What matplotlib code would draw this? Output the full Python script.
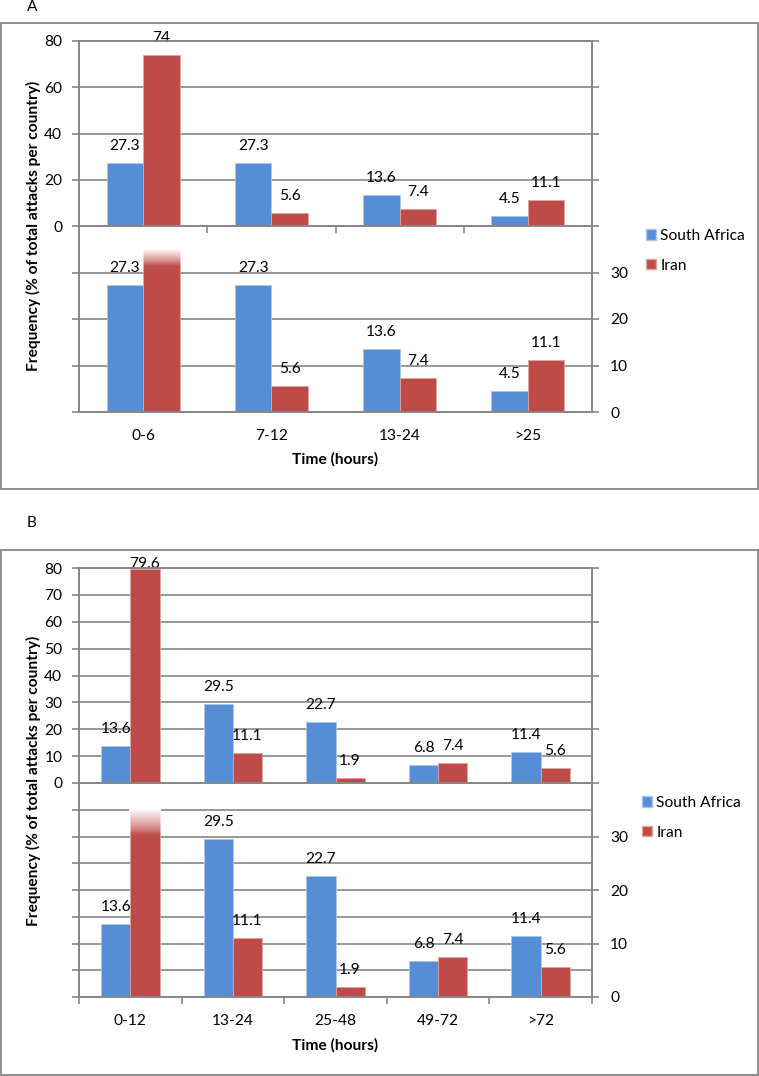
import numpy as np
import matplotlib
matplotlib.use("Agg")
import matplotlib.pyplot as plt
from matplotlib.patches import Rectangle, Patch
from matplotlib.ticker import FixedLocator, NullFormatter, FixedFormatter

plt.rcParams['font.family'] = ['Lato', 'DejaVu Sans']

# ---------------- data ----------------
series_names = ['South Africa', 'Iran']

cats_a = ['0-6', '7-12', '13-24', '>25']
sa_a = [27.3, 27.3, 13.6, 4.5]
iran_a = [74, 5.6, 7.4, 11.1]

cats_b = ['0-12', '13-24', '25-48', '49-72', '>72']
sa_b = [13.6, 29.5, 22.7, 6.8, 11.4]
iran_b = [79.6, 11.1, 1.9, 7.4, 5.6]

upper_ticks_a = [0, 20, 40, 60, 80]
upper_ticks_b = [0, 10, 20, 30, 40, 50, 60, 70, 80]
lower_ticks = [0, 10, 20, 30]

ylabel = 'Frequency (% of total attacks per country)'
xlabel = 'Time (hours)'

# ---------------- style ----------------
W, H, DPI = 759, 1076, 100
BLUE = '#558ED5'
RED = '#BE4B48'
BLUE_EDGE = '#A9C7EE'
RED_EDGE = '#E3A3A1'
GRID = '#868686'
FS = 11.2
BAR_W = 0.285
PX2PT = 72.0 / DPI

fig = plt.figure(figsize=(W / DPI, H / DPI), dpi=DPI)


def rect(x0, y0, x1, y1):
    return [x0 / W, 1 - y1 / H, (x1 - x0) / W, (y1 - y0) / H]


def style_axes(ax):
    for s in ax.spines.values():
        s.set_color(GRID)
        s.set_linewidth(1.2)
    ax.tick_params(colors=GRID, labelcolor='black', width=1.2, labelsize=FS)
    ax.set_axisbelow(True)
    ax.set_facecolor('none')


def panel(box, top, mid, bot, cats, sa, ir, up_left, up_right, low_left,
          low_grid, upper_xticks, lower_xticks, fade, ylab_y, xlab_y,
          letter, letter_y, leg_x, leg_y):
    x0, x1 = 79, 592
    n = len(cats)
    xs = np.arange(n)
    up_max = up_left[-1]
    low_max = 40
    cut = 35

    # outer box
    fig.add_artist(Rectangle((box[0] / W, 1 - box[3] / H), (box[2] - box[0]) / W,
                             (box[3] - box[1]) / H, transform=fig.transFigure,
                             fill=False, ec=GRID, lw=1.3))
    fig.text(27 / W, 1 - letter_y / H, letter, fontsize=FS, va='center', ha='left')

    # ---------- upper axes ----------
    au = fig.add_axes(rect(x0, top, x1, mid))
    style_axes(au)
    b1 = au.bar(xs - BAR_W / 2, sa, BAR_W, color=BLUE, ec=BLUE_EDGE, lw=0.6, zorder=2)
    b2 = au.bar(xs + BAR_W / 2, ir, BAR_W, color=RED, ec=RED_EDGE, lw=0.6, zorder=2)
    au.set_xlim(-0.5, n - 0.5)
    au.set_ylim(0, up_max)
    au.yaxis.set_major_locator(FixedLocator(up_left))
    au.yaxis.grid(True, color=GRID, lw=1.2)
    au.tick_params(axis='y', direction='out', length=5, pad=7)
    au.spines['top'].set_visible(True)
    au.spines['bottom'].set_zorder(3)
    if upper_xticks:
        au.xaxis.set_major_locator(FixedLocator(np.arange(1, n) - 0.5))
        au.xaxis.set_major_formatter(NullFormatter())
        au.tick_params(axis='x', direction='out', length=5)
    else:
        au.set_xticks([])
    ar = au.twinx()
    style_axes(ar)
    ar.set_ylim(0, up_max)
    ar.yaxis.set_major_locator(FixedLocator(up_right))
    ar.yaxis.set_major_formatter(NullFormatter())
    ar.tick_params(axis='y', direction='out', length=5)
    h_px = mid - top
    for bars, vals in ((b1, sa), (b2, ir)):
        for p, v in zip(bars, vals):
            dist = (up_max - v) / up_max * h_px
            off = min(17, dist + 4)
            au.annotate(f'{v:g}', (p.get_x() + p.get_width() / 2, v),
                        xytext=(0, off * PX2PT), textcoords='offset points',
                        ha='center', va='center', fontsize=FS, zorder=5,
                        annotation_clip=False)

    # ---------- lower axes ----------
    al = fig.add_axes(rect(x0, mid, x1, bot))
    style_axes(al)
    al.spines['top'].set_visible(False)
    c1 = al.bar(xs - BAR_W / 2, sa, BAR_W, color=BLUE, ec=BLUE_EDGE, lw=0.6, zorder=2)
    ir_clip = [min(v, cut) for v in ir]
    c2 = al.bar(xs + BAR_W / 2, ir_clip, BAR_W, color=RED, ec=RED_EDGE, lw=0.6, zorder=2)
    # white fade at top of the broken bar
    alpha = np.linspace(0, 0.97, 64) ** 0.8
    grad = np.ones((64, 1, 4))
    grad[:, 0, 3] = alpha
    for p, v in zip(c2, ir):
        if v > cut:
            bx = p.get_x() - 0.01
            al.imshow(grad, extent=[bx, bx + p.get_width() + 0.02, cut - fade, cut],
                      origin='lower', aspect='auto', zorder=3, interpolation='bilinear')
    al.set_xlim(-0.5, n - 0.5)
    al.set_ylim(0, low_max)
    al.yaxis.set_major_locator(FixedLocator(low_left))
    al.yaxis.set_major_formatter(NullFormatter())
    al.tick_params(axis='y', direction='out', length=5)
    for g in low_grid:
        al.axhline(g, color=GRID, lw=1.2, zorder=0.5)
    al.xaxis.set_minor_locator(FixedLocator(xs))
    al.xaxis.set_minor_formatter(FixedFormatter(cats))
    if lower_xticks:
        al.xaxis.set_major_locator(FixedLocator(np.arange(0, n + 1) - 0.5))
        al.xaxis.set_major_formatter(NullFormatter())
        al.tick_params(axis='x', which='major', direction='out', length=5)
        al.tick_params(axis='x', which='minor', length=0, pad=12, labelsize=FS)
    else:
        al.set_xticks([])
        al.tick_params(axis='x', which='minor', length=0, pad=12, labelsize=FS)
    al2 = al.twinx()
    style_axes(al2)
    al2.spines['top'].set_visible(False)
    al2.set_ylim(0, low_max)
    al2.yaxis.set_major_locator(FixedLocator(lower_ticks))
    al2.tick_params(axis='y', direction='out', length=5, pad=8)
    for bars, vals in ((c1, sa), (c2, ir)):
        for p, v in zip(bars, vals):
            if v > cut:
                continue
            al.annotate(f'{v:g}', (p.get_x() + p.get_width() / 2, v),
                        xytext=(0, 17 * PX2PT), textcoords='offset points',
                        ha='center', va='center', fontsize=FS, zorder=5)

    fig.text(33 / W, 1 - ylab_y / H, ylabel, rotation=90, ha='center', va='center',
             fontsize=FS, fontweight='bold')
    fig.text((x0 + x1) / 2 / W, 1 - xlab_y / H, xlabel, ha='center', va='center',
             fontsize=FS, fontweight='bold')

    handles = [Patch(facecolor=BLUE, edgecolor=BLUE_EDGE),
               Patch(facecolor=RED, edgecolor=RED_EDGE)]
    fig.legend(handles, series_names, loc='upper left',
               bbox_to_anchor=(leg_x / W, 1 - leg_y / H), frameon=False,
               fontsize=FS, handlelength=0.62, handleheight=0.62,
               handletextpad=0.3, borderpad=0, borderaxespad=0, labelspacing=1.0)


panel(box=(1, 23, 758, 489), top=41, mid=226, bot=412, cats=cats_a, sa=sa_a,
      ir=iran_a, up_left=upper_ticks_a, up_right=upper_ticks_a,
      low_left=[0, 10, 20, 30], low_grid=[10, 20, 30],
      upper_xticks=True, lower_xticks=False, fade=3.5,
      ylab_y=226, xlab_y=459, letter='A', letter_y=7, leg_x=646, leg_y=229)

panel(box=(1, 550, 758, 1075), top=568, mid=783, bot=997, cats=cats_b, sa=sa_b,
      ir=iran_b, up_left=upper_ticks_b, up_right=[0, 20, 40, 60, 80],
      low_left=[0, 5, 10, 15, 20, 25, 30, 35],
      low_grid=[5, 10, 15, 20, 25, 30, 35],
      upper_xticks=False, lower_xticks=True, fade=4.7,
      ylab_y=781, xlab_y=1045, letter='B', letter_y=523, leg_x=642, leg_y=796)

fig.savefig('out.png', dpi=DPI)
